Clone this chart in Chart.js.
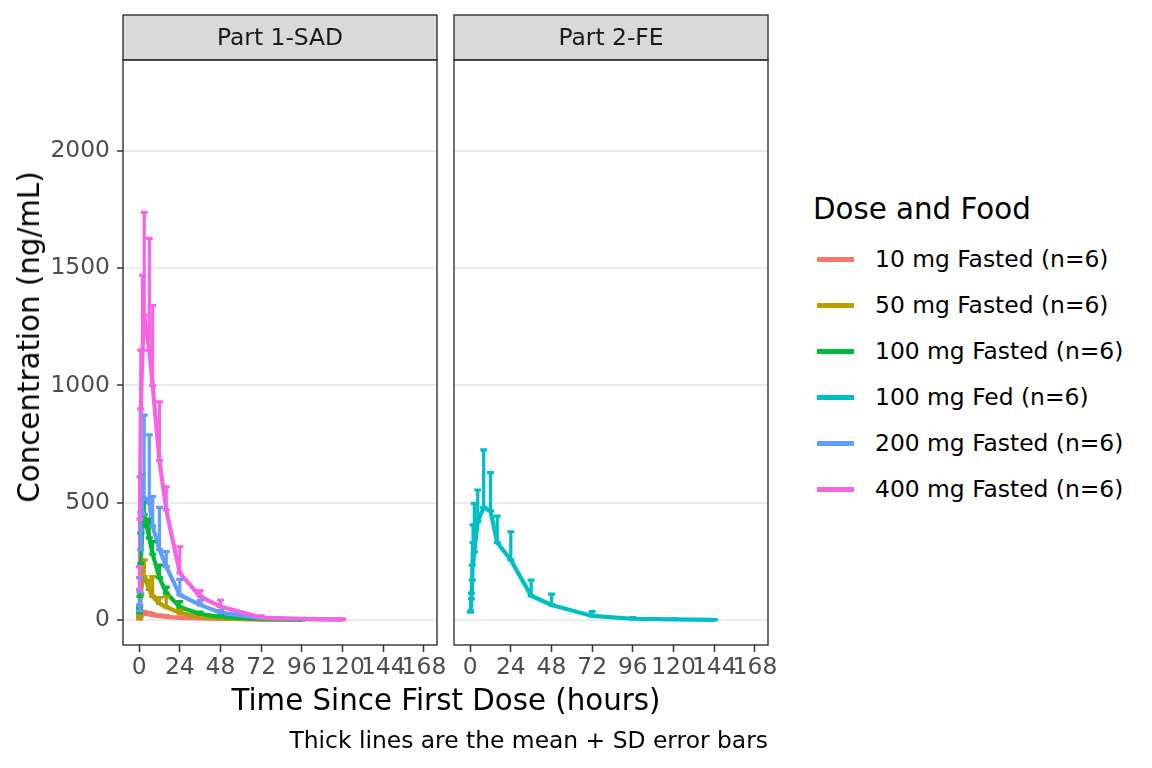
<!DOCTYPE html>
<html>
<head>
<meta charset="utf-8">
<script src="https://cdn.jsdelivr.net/npm/chart.js@4.4.1/dist/chart.umd.min.js"></script>
<style>
  body { margin: 0; width: 1152px; height: 768px; background: #fff; position: relative; overflow: hidden;
         font-family: "DejaVu Sans", sans-serif; }
  canvas { position: absolute; top: 0; }
  #leftPanel { left: 0; }
  #rightPanel { left: 445px; }
  .txt { position: absolute; white-space: nowrap; color: #000; }
  #xTitle { left: 0; width: 892px; top: 683px; line-height: 34px; font-size: 29.3px; text-align: center; }
  #yTitle { left: 29px; top: 337px; line-height: 34px; font-size: 29.3px; transform: translate(-50%, -50%) rotate(-90deg); }
  #caption { right: 384px; top: 726px; line-height: 28px; font-size: 23.4px; }
  #legend { position: absolute; left: 813px; top: 192px; }
  #legend .title { line-height: 34px; font-size: 29.3px; margin-bottom: 33px; }
  #legend .item { position: relative; height: 46px; }
  #legend .swatch { position: absolute; left: 4px; top: -2px; width: 37px; height: 4.5px; }
  #legend .label { position: absolute; left: 62px; top: -14px; line-height: 28px; font-size: 23.4px; white-space: nowrap; }
</style>
</head>
<body>
<canvas id="leftPanel" width="452" height="768"></canvas>
<canvas id="rightPanel" width="335" height="768"></canvas>
<div class="txt" id="xTitle">Time Since First Dose (hours)</div>
<div class="txt" id="yTitle">Concentration (ng/mL)</div>
<div class="txt" id="caption">Thick lines are the mean + SD error bars</div>
<div id="legend"></div>

<script>
// sampling times (hours)
const sadTimes = [0.25, 0.5, 1, 2, 3, 6, 8, 12, 16, 24, 36, 48, 72, 96, 120];
const feTimes = [0.25, 0.75, 1.25, 1.75, 2.5, 4.5, 8, 12, 16, 24, 36, 48, 72, 96, 120, 144];

// mean and SD per group (ng/mL)
const mean10 = [4, 12, 20, 25, 27, 23, 20, 16, 13, 9, 6, 4, 2, 1];
const sd10 = [3, 6, 9, 10, 10, 8, 7, 6, 5, 4, 3, 2, 1, 1];
const mean50 = [8, 40, 110, 170, 185, 130, 100, 70, 55, 30, 13, 6, 2, 1];
const sd50 = [7, 20, 70, 60, 71, 40, 85, 25, 44, 15, 7, 4, 2, 1];
const mean100 = [30, 100, 240, 400, 450, 350, 280, 180, 115, 55, 25, 13, 3, 1];
const sd100 = [20, 80, 130, 60, 50, 80, 54, 54, 25, 23, 8, 5, 3, 1];
const mean200 = [40, 120, 300, 450, 520, 500, 400, 300, 227, 107, 64, 31, 8, 3, 1];
const sd200 = [24, 60, 160, 170, 353, 289, 126, 180, 64, 66, 18, 9, 4, 2, 1];
const mean400 = [130, 430, 900, 1150, 1300, 1150, 1000, 680, 469, 200, 100, 57, 10, 4, 2];
const sd400 = [96, 180, 251, 320, 438, 477, 341, 250, 99, 112, 25, 28, 7, 3, 1];
const meanFed = [33, 90, 170, 330, 290, 420, 480, 465, 330, 256, 103, 64, 17, 5, 2, 0];
const sdFed = [5, 24, 64, 75, 207, 134, 245, 163, 113, 120, 67, 46, 18, 5, 3, 1];

const groupNames = ['10 mg Fasted (n=6)', '50 mg Fasted (n=6)', '100 mg Fasted (n=6)',
                    '100 mg Fed (n=6)', '200 mg Fasted (n=6)', '400 mg Fasted (n=6)'];
const groupColors = ['#F8766D', '#B79F00', '#00BA38', '#00BFC4', '#619CFF', '#F564E3'];
const panelLabels = ['Part 1-SAD', 'Part 2-FE'];

const xTicks = [0, 24, 48, 72, 96, 120, 144, 168];
const yTicks = [0, 500, 1000, 1500, 2000];

const FONT = '"DejaVu Sans", sans-serif';
const STRIP_TOP = 15;

function makeDataset(idx, times, means, sds) {
    return {
        label: groupNames[idx],
        data: means.map((m, i) => ({ x: times[i], y: m })),
        sd: sds,
        borderColor: groupColors[idx],
        backgroundColor: groupColors[idx],
        borderWidth: 4.2,
        pointRadius: 0,
        tension: 0,
        order: 10 - idx
    };
}

// mean + SD bars drawn through the chart scales
const errorBars = {
    id: 'errorBars',
    afterDatasetsDraw(chart) {
        const { ctx, chartArea: a, scales: { x, y } } = chart;
        ctx.save();
        ctx.beginPath();
        ctx.rect(a.left, a.top, a.right - a.left, a.bottom - a.top);
        ctx.clip();
        chart.data.datasets.forEach(ds => {
            ctx.strokeStyle = ds.borderColor;
            ctx.lineWidth = 3.2;
            ds.data.forEach((p, i) => {
                const px = x.getPixelForValue(p.x);
                const y0 = y.getPixelForValue(p.y);
                const y1 = y.getPixelForValue(p.y + ds.sd[i]);
                ctx.beginPath();
                ctx.moveTo(px, y0); ctx.lineTo(px, y1);
                ctx.moveTo(px - 3.5, y1); ctx.lineTo(px + 3.5, y1);
                ctx.moveTo(px - 3.5, y0); ctx.lineTo(px + 3.5, y0);
                ctx.stroke();
            });
        });
        ctx.restore();
    }
};

// facet strip and panel border
const panelFrame = {
    id: 'panelFrame',
    afterDraw(chart, args, opts) {
        const { ctx, chartArea: a } = chart;
        ctx.save();
        ctx.fillStyle = '#D9D9D9';
        ctx.fillRect(a.left, STRIP_TOP, a.right - a.left, a.top - STRIP_TOP);
        ctx.strokeStyle = '#333333';
        ctx.lineWidth = 1.4;
        ctx.strokeRect(a.left, STRIP_TOP, a.right - a.left, a.top - STRIP_TOP);
        ctx.strokeRect(a.left, a.top, a.right - a.left, a.bottom - a.top);
        ctx.fillStyle = '#1A1A1A';
        ctx.font = '23.4px ' + FONT;
        ctx.textAlign = 'center';
        ctx.textBaseline = 'middle';
        ctx.fillText(opts.label, (a.left + a.right) / 2, (STRIP_TOP + a.top) / 2 + 1);
        ctx.restore();
    }
};

function panelOptions(label, showY, padRight) {
    return {
        responsive: false,
        animation: false,
        layout: { padding: { left: 0, right: padRight, top: 60, bottom: 0 } },
        plugins: {
            legend: { display: false },
            tooltip: { enabled: false },
            panelFrame: { label: label }
        },
        scales: {
            x: {
                type: 'linear',
                min: -9.5,
                max: 175.7,
                afterBuildTicks: s => { s.ticks = xTicks.map(v => ({ value: v })); },
                afterFit: s => { s.height = 123; },
                grid: { drawOnChartArea: false, drawTicks: true, tickLength: 7, tickColor: '#333333', tickWidth: 1.5 },
                border: { display: false },
                ticks: { color: '#4D4D4D', font: { family: FONT, size: 23.4 }, padding: 2, autoSkip: false, maxRotation: 0,
                         callback: v => String(v) }
            },
            y: {
                type: 'linear',
                min: -107,
                max: 2388,
                afterBuildTicks: s => { s.ticks = yTicks.map(v => ({ value: v })); },
                afterFit: s => { s.width = showY ? 123 : 9; },
                grid: { color: '#EBEBEB', lineWidth: 2, drawTicks: showY, tickLength: 6, tickColor: '#333333', tickWidth: 1.5 },
                border: { display: false },
                ticks: { display: showY, color: '#4D4D4D', font: { family: FONT, size: 23.4 }, padding: 7,
                         callback: v => String(v) }
            }
        }
    };
}

new Chart(document.getElementById('leftPanel'), {
    type: 'line',
    data: {
        datasets: [
            makeDataset(0, sadTimes, mean10, sd10),
            makeDataset(1, sadTimes, mean50, sd50),
            makeDataset(2, sadTimes, mean100, sd100),
            makeDataset(4, sadTimes, mean200, sd200),
            makeDataset(5, sadTimes, mean400, sd400)
        ]
    },
    options: panelOptions(panelLabels[0], true, 15),
    plugins: [errorBars, panelFrame]
});

new Chart(document.getElementById('rightPanel'), {
    type: 'line',
    data: {
        datasets: [makeDataset(3, feTimes, meanFed, sdFed)]
    },
    options: panelOptions(panelLabels[1], false, 12),
    plugins: [errorBars, panelFrame]
});

// legend
const legend = document.getElementById('legend');
legend.innerHTML = '<div class="title">Dose and Food</div>';
groupNames.forEach((name, i) => {
    const item = document.createElement('div');
    item.className = 'item';
    item.innerHTML = `<div class="swatch" style="background:${groupColors[i]}"></div><div class="label">${name}</div>`;
    legend.appendChild(item);
});
</script>
</body>
</html>
